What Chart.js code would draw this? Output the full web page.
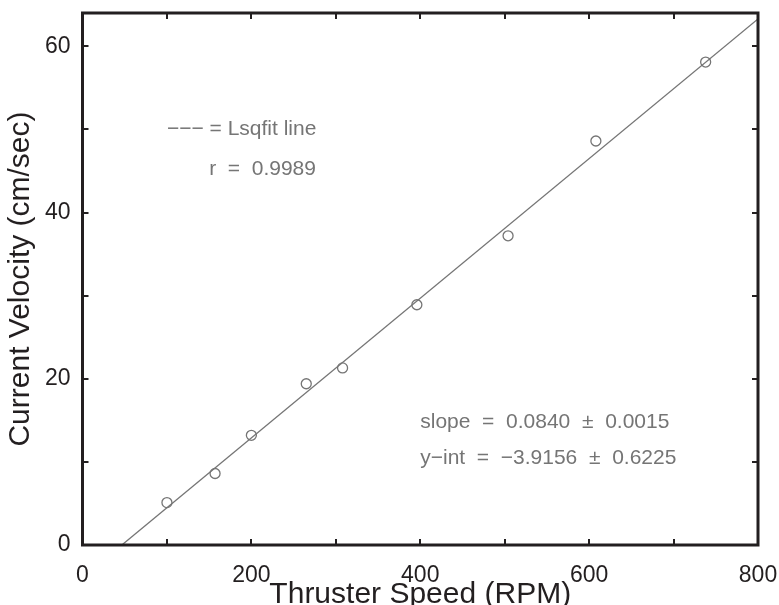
<!DOCTYPE html>
<html>
<head>
<meta charset="utf-8">
<script src="https://cdn.jsdelivr.net/npm/chart.js@4/dist/chart.umd.min.js"></script>
<style>
  html, body { margin: 0; padding: 0; background: #fff; }
</style>
</head>
<body>
<canvas id="chart" width="779" height="605"></canvas>
<script>
'use strict';

// Measured points (thruster speed vs current velocity)
let rpm = [100, 157, 200, 265, 308, 396, 504, 608, 738];
let velocity = [5.1, 8.6, 13.2, 19.4, 21.3, 28.9, 37.2, 48.6, 58.1];

// Least squares fit line
let slope = 0.0840;
let yInt = -3.9156;
let fitX = [46.6, 800];

// Axis ticks
let xTicks = [0, 200, 400, 600, 800];
let yTicks = [0, 20, 40, 60];
let xMinor = [100, 300, 500, 700];
let yMinor = [10, 30, 50];

// Text notes placed in data coordinates
let noteText = ['\u2212\u2212\u2212 = Lsqfit line', 'r  =  0.9989', 'slope  =  0.0840  \u00b1  0.0015', 'y\u2212int  =  \u22123.9156  \u00b1  0.6225'];
let noteX = [100, 150, 400, 400];
let noteY = [50, 45.2, 14.8, 10.5];

let ink = '#231f20';
let gray = '#757575';
let font = '"Liberation Sans", Arial, Helvetica, sans-serif';

let points = rpm.map(function (x, i) { return { x: x, y: velocity[i] }; });
let fitPoints = fitX.map(function (x) { return { x: x, y: slope * x + yInt }; });

// Draws the box with inward ticks like the original plot
let framePlugin = {
  id: 'frame',
  afterDatasetsDraw(chart) {
    let ctx = chart.ctx;
    let a = chart.chartArea;
    let xs = chart.scales.x;
    let ys = chart.scales.y;
    let len = 6;
    ctx.save();
    ctx.strokeStyle = ink;
    ctx.lineWidth = 2;
    ctx.beginPath();
    xTicks.concat(xMinor).forEach(function (v) {
      let px = Math.round(xs.getPixelForValue(v));
      ctx.moveTo(px, a.bottom); ctx.lineTo(px, a.bottom - len);
      ctx.moveTo(px, a.top); ctx.lineTo(px, a.top + len);
    });
    yTicks.concat(yMinor).forEach(function (v) {
      let py = Math.round(ys.getPixelForValue(v));
      ctx.moveTo(a.left, py); ctx.lineTo(a.left + len, py);
      ctx.moveTo(a.right, py); ctx.lineTo(a.right - len, py);
    });
    ctx.stroke();
    ctx.lineWidth = 3;
    ctx.strokeRect(a.left, a.top, a.right - a.left, a.bottom - a.top);
    ctx.restore();
  }
};

let notesPlugin = {
  id: 'notes',
  afterDraw(chart) {
    let ctx = chart.ctx;
    let xs = chart.scales.x;
    let ys = chart.scales.y;
    ctx.save();
    ctx.fillStyle = gray;
    ctx.font = '21px ' + font;
    ctx.textAlign = 'left';
    ctx.textBaseline = 'middle';
    for (let i = 0; i < noteText.length; i++) {
      ctx.fillText(noteText[i], xs.getPixelForValue(noteX[i]), ys.getPixelForValue(noteY[i]));
    }
    ctx.restore();
  }
};

new Chart(document.getElementById('chart'), {
  type: 'scatter',
  data: {
    datasets: [
      {
        label: 'Lsqfit line',
        type: 'line',
        data: fitPoints,
        borderColor: gray,
        borderWidth: 1.3,
        pointRadius: 0,
        fill: false
      },
      {
        label: 'Data',
        data: points,
        borderColor: gray,
        backgroundColor: 'rgba(0,0,0,0)',
        borderWidth: 1.3,
        pointRadius: 5
      }
    ]
  },
  options: {
    responsive: false,
    animation: false,
    layout: { padding: { top: 13, right: 21, left: 0, bottom: 0 } },
    plugins: {
      legend: { display: false },
      tooltip: { enabled: false }
    },
    scales: {
      x: {
        type: 'linear',
        min: 0,
        max: 800,
        afterBuildTicks: function (s) { s.ticks = xTicks.map(function (v) { return { value: v }; }); },
        afterFit: function (s) { s.height = 60; s.paddingLeft = 0; s.paddingRight = 0; },
        grid: { display: false },
        border: { display: false },
        ticks: { color: ink, font: { family: font, size: 23 }, padding: 9 },
        title: { display: true, text: 'Thruster Speed (RPM)', color: ink, font: { family: font, size: 30 }, padding: { top: 0, bottom: -8 } }
      },
      y: {
        type: 'linear',
        min: 0,
        max: 64,
        afterBuildTicks: function (s) { s.ticks = yTicks.map(function (v) { return { value: v }; }); },
        afterFit: function (s) { s.width = 82.5; s.paddingTop = 0; s.paddingBottom = 0; },
        grid: { display: false },
        border: { display: false },
        ticks: { color: ink, font: { family: font, size: 23 }, padding: 4 },
        title: { display: true, text: 'Current Velocity (cm/sec)', color: ink, font: { family: font, size: 30 }, padding: { top: 3, bottom: 0 } }
      }
    }
  },
  plugins: [framePlugin, notesPlugin]
});
</script>
</body>
</html>
